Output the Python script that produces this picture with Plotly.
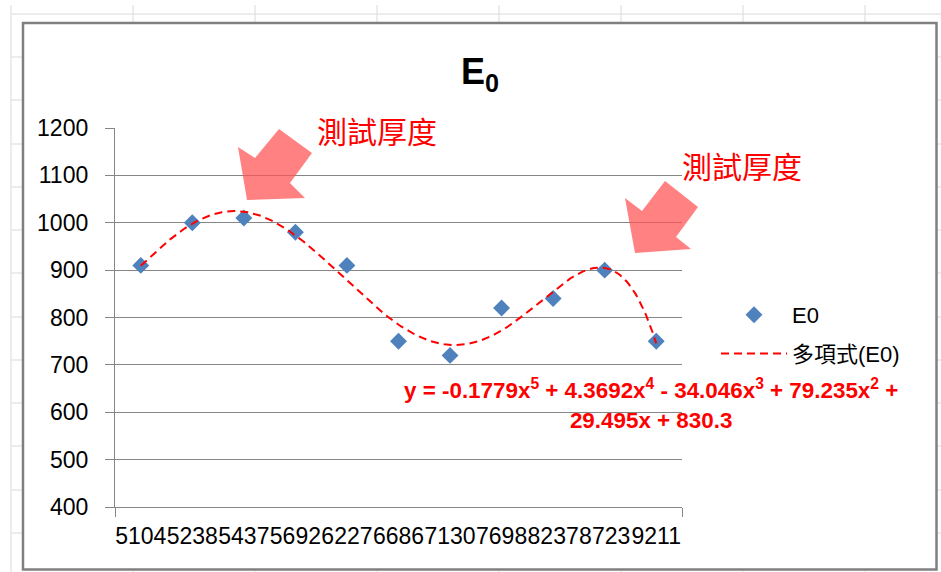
import numpy as np
import plotly.graph_objects as go

# ---------------- data ----------------
categories = ["5104", "5238", "5437", "5692", "6227", "6686",
              "7130", "7698", "8237", "8723", "9211"]
e0_values = [910, 1000, 1010, 980, 910, 750, 720, 820, 840, 900, 750]
# polynomial trendline coefficients shown on the chart (x^5 ... x^0)
trend_coeffs = [-0.1779, 4.3692, -34.046, 79.235, 29.495, 830.3]
y_ticks = [400, 500, 600, 700, 800, 900, 1000, 1100, 1200]

# ---------------- layout helpers ----------------
W, H = 941, 572
L, R, T, B = 115, 682, 128, 507  # plot-area pixel box


def px(X):
    return (X - L) / (R - L)


def py(Y):
    return (B - Y) / (B - T)


FONT = "Liberation Sans, Arial, Noto Sans CJK TC, sans-serif"
GRID = "#868686"

x_idx = list(range(1, len(categories) + 1))
x_fine = np.linspace(1, len(categories), 300)
y_fine = np.polyval(trend_coeffs, x_fine)

fig = go.Figure()
fig.add_trace(go.Scatter(
    x=x_idx, y=e0_values, mode="markers", name="E0", legendgroup="a",
    marker=dict(symbol="diamond", size=13, color="#4F81BD",
                line=dict(width=0)),
))
fig.add_trace(go.Scatter(
    x=x_fine, y=y_fine, mode="lines", name="多項式(E0)", legendgroup="b",
    line=dict(color="#FF0000", width=2, dash="8px,5px"),
))

shapes = []
# spreadsheet cell lines behind the chart
for cx in [11, 133, 255, 377, 499, 621, 743, 865]:
    shapes.append(dict(type="line", xref="paper", yref="paper",
                       x0=px(cx), x1=px(cx), y0=py(5), y1=py(572),
                       line=dict(color="#DADADA", width=1), layer="below"))
for ry in [14, 57, 100, 144, 187, 230, 273, 317, 360, 403, 446, 490, 533]:
    shapes.append(dict(type="line", xref="paper", yref="paper",
                       x0=px(11), x1=px(941), y0=py(ry), y1=py(ry),
                       line=dict(color="#DADADA", width=1), layer="below"))
# chart area
shapes.append(dict(type="rect", xref="paper", yref="paper",
                   x0=px(23), x1=px(936.5), y0=py(23), y1=py(569.5),
                   fillcolor="white", line=dict(color="#808080", width=2.5),
                   layer="below"))


def arrow(points):
    d = "M " + " L ".join(f"{px(a):.5f},{py(b):.5f}" for a, b in points) + " Z"
    return dict(type="path", xref="paper", yref="paper", path=d,
                fillcolor="rgba(255,80,80,0.72)", line=dict(width=0),
                layer="above")


shapes.append(arrow([(279, 129), (312, 153), (290, 183), (305, 198),
                     (247, 200), (238, 147), (255, 158)]))
shapes.append(arrow([(665, 181), (698, 207), (676, 237), (691, 249),
                     (635, 253), (625, 198), (642, 211)]))

annotations = [
    dict(text="<b>E<sub>0</sub></b>", xref="paper", yref="paper",
         x=px(480), y=py(74), xanchor="center", yanchor="middle",
         showarrow=False, font=dict(family=FONT, size=36, color="black")),
    dict(text="測試厚度", xref="paper", yref="paper", x=px(377), y=py(130),
         xanchor="center", yanchor="middle", showarrow=False,
         font=dict(family="Noto Sans CJK TC", size=30, color="#FF0000")),
    dict(text="測試厚度", xref="paper", yref="paper", x=px(742), y=py(165),
         xanchor="center", yanchor="middle", showarrow=False,
         font=dict(family="Noto Sans CJK TC", size=30, color="#FF0000")),
    dict(text="<b>y = -0.1779x<sup>5</sup> + 4.3692x<sup>4</sup> - 34.046x<sup>3</sup>"
              " + 79.235x<sup>2</sup> +<br>29.495x + 830.3</b>",
         xref="paper", yref="paper", x=px(651), y=py(404),
         xanchor="center", yanchor="middle", align="center", showarrow=False,
         font=dict(family=FONT, size=22.4, color="#FF0000")),
]

fig.update_layout(
    width=W, height=H,
    margin=dict(l=L, r=W - R, t=T, b=H - B, pad=0),
    paper_bgcolor="white", plot_bgcolor="rgba(0,0,0,0)",
    font=dict(family=FONT, size=22, color="black"),
    shapes=shapes, annotations=annotations,
    showlegend=True,
    legend=dict(x=px(716), y=py(294), xanchor="left", yanchor="top",
                xref="paper", yref="paper",
                font=dict(family=FONT, size=22, color="black"),
                bgcolor="rgba(0,0,0,0)", itemwidth=66,
                traceorder="grouped", tracegroupgap=7),
)
fig.update_xaxes(
    range=[0.5, len(categories) + 0.5], tickmode="array",
    tickvals=x_idx, ticktext=categories, tickangle=0,
    showgrid=False, zeroline=False, showline=True, linecolor=GRID, linewidth=1.3,
    ticks="", ticklabelstandoff=8,
    tickfont=dict(family=FONT, size=23, color="black"),
    minor=dict(tickmode="array", tickvals=[0.5, len(categories) + 0.5],
               ticks="outside", ticklen=9, tickcolor=GRID, tickwidth=1.3),
)
fig.update_yaxes(
    range=[400, 1200], tickmode="array", tickvals=y_ticks,
    showgrid=True, gridcolor=GRID, gridwidth=1, zeroline=False,
    showline=True, linecolor=GRID, linewidth=1.3,
    ticks="outside", ticklen=9, tickcolor=GRID, tickwidth=1.3,
    ticklabelstandoff=12,
    tickfont=dict(family=FONT, size=23, color="black"),
)

fig.write_html("out.html",
               config={"displayModeBar": False},
               post_script="document.body.style.margin='0';"
                           "document.body.style.padding='0';")
